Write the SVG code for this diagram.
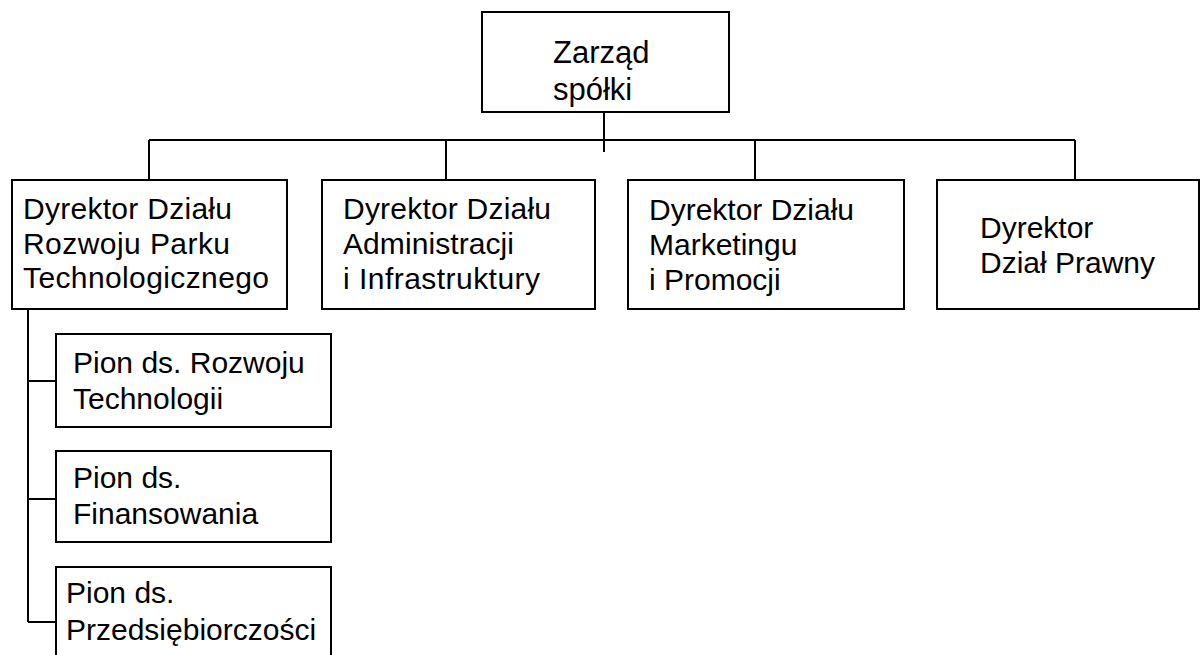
<svg xmlns="http://www.w3.org/2000/svg" width="1201" height="655" viewBox="0 0 1201 655">
  <style>
    .box { fill: #ffffff; stroke: #000000; stroke-width: 2; }
    .link { fill: none; stroke: #000000; stroke-width: 2; }
    text { font-family: "Liberation Sans", Arial, sans-serif; fill: #000000; font-size: 30px; }
    .t31 { font-size: 31px; }
  </style>
  <rect width="1201" height="655" fill="#ffffff"/>

  <!-- connectors -->
  <g id="connectors">
    <path class="link" d="M604 112 V152"/>
    <path class="link" d="M149 140 H1075"/>
    <path class="link" d="M149 140 V180 M446 140 V180 M755 140 V180 M1075 140 V180"/>
    <path class="link" d="M28 309 V622"/>
    <path class="link" d="M28 381 H56 M28 499 H56 M28 622 H56"/>
  </g>

  <!-- board -->
  <g id="zarzad">
    <rect class="box" x="482" y="12" width="247" height="100"/>
    <text class="t31"><tspan x="553" y="63">Zarząd</tspan><tspan x="553" y="100">spółki</tspan></text>
  </g>

  <!-- directors -->
  <g id="dyr-rozwoju">
    <rect class="box" x="12" y="180" width="275" height="129"/>
    <text x="23" y="219" textLength="209">Dyrektor Działu</text>
    <text x="23" y="254" textLength="207">Rozwoju Parku</text>
    <text x="23" y="288" textLength="246">Technologicznego</text>
  </g>

  <g id="dyr-administracji">
    <rect class="box" x="322" y="180" width="273" height="129"/>
    <text x="343" y="219" textLength="208">Dyrektor Działu</text>
    <text x="343" y="254" textLength="171">Administracji</text>
    <text x="343" y="289" textLength="197">i Infrastruktury</text>
  </g>

  <g id="dyr-marketingu">
    <rect class="box" x="628" y="180" width="276" height="129"/>
    <text><tspan x="649" y="220">Dyrektor Działu</tspan><tspan x="649" y="255">Marketingu</tspan><tspan x="649" y="290">i Promocji</tspan></text>
  </g>

  <g id="dyr-prawny">
    <rect class="box" x="937" y="180" width="262" height="129"/>
    <text><tspan x="980" y="238">Dyrektor</tspan><tspan x="980" y="273">Dział Prawny</tspan></text>
  </g>

  <!-- divisions -->
  <g id="pion-technologii">
    <rect class="box" x="56" y="334" width="275" height="93"/>
    <text><tspan x="73" y="373">Pion ds. Rozwoju</tspan><tspan x="73" y="409">Technologii</tspan></text>
  </g>

  <g id="pion-finansowania">
    <rect class="box" x="56" y="451" width="275" height="91"/>
    <text><tspan x="73" y="488">Pion ds.</tspan><tspan x="73" y="524">Finansowania</tspan></text>
  </g>

  <g id="pion-przedsiebiorczosci">
    <rect class="box" x="56" y="567" width="275" height="110"/>
    <text><tspan x="66" y="603">Pion ds.</tspan><tspan x="66" y="640">Przedsiębiorczości</tspan></text>
  </g>
</svg>
